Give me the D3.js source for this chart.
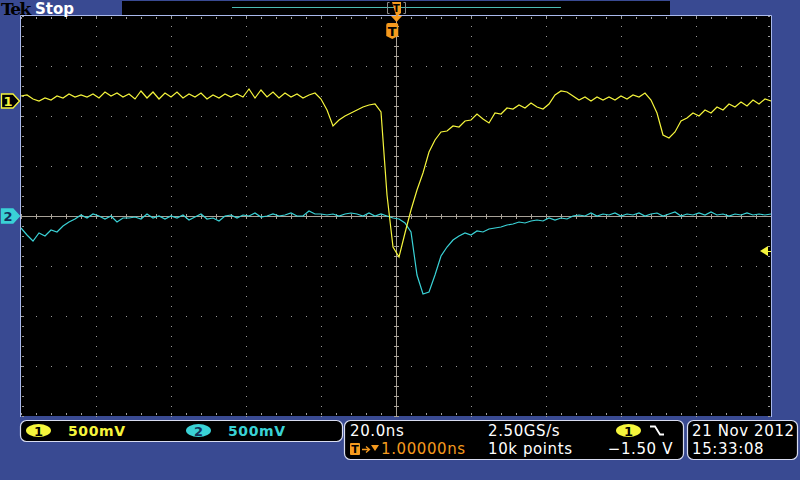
<!DOCTYPE html>
<html><head><meta charset="utf-8">
<script src="https://cdn.jsdelivr.net/npm/d3@7"></script>
<style>html,body{margin:0;padding:0;background:#394a92;}svg{display:block;}</style>
</head><body>
<svg id="c" width="800" height="480"></svg>
<script>
// ---- data ----
const timeStartNs = -100;      // left edge of record
const sampleStepNs = 1.6;      // sample spacing used for the readout
const ch1Volts = [0.05,0.06,0.02,0.00,0.03,0.01,0.05,0.03,0.07,0.04,0.06,
  0.04,0.07,0.03,0.09,0.05,0.08,0.04,0.07,0.02,0.10,
  0.03,0.09,0.02,0.08,0.04,0.09,0.03,0.07,0.04,0.08,
  0.02,0.06,0.03,0.07,0.04,0.07,0.04,0.12,0.03,0.11,
  0.04,0.09,0.03,0.08,0.04,0.07,0.03,0.06,0.08,0.02,
  -0.09,-0.25,-0.19,-0.15,-0.12,-0.09,-0.06,-0.04,-0.03,-0.11,-0.94,-1.46,-1.56,-1.32,-1.09,-0.89,-0.72,-0.51,
  -0.39,-0.31,-0.30,-0.25,-0.26,-0.20,-0.19,-0.13,-0.18,-0.22,-0.12,-0.13,-0.07,-0.08,-0.04,-0.07,-0.02,-0.06,-0.08,-0.03,
  0.06,0.10,0.09,0.05,0.01,0.04,0.00,0.04,0.01,0.04,0.01,0.05,0.02,0.06,0.04,0.08,0.01,
  -0.12,-0.34,-0.37,
  -0.31,-0.20,-0.17,-0.12,-0.15,-0.09,-0.12,-0.06,-0.09,-0.03,-0.06,-0.01,-0.05,0.01,-0.03,0.02,0.00];
const ch2Volts = [-0.12,-0.19,-0.25,-0.17,-0.20,-0.14,-0.16,-0.10,-0.06,-0.03,0.01,-0.02,0.02,0.00,-0.03,0.00,-0.06,-0.02,-0.02,-0.01,-0.03,0.02,-0.02,0.00,-0.03,0.00,-0.02,0.01,-0.04,-0.01,0.02,-0.03,-0.02,-0.05,0.00,0.01,-0.02,0.01,0.00,0.03,-0.01,0.00,0.02,0.00,0.01,0.03,0.00,0.00,0.05,0.02,0.02,0.01,0.02,0.00,0.02,0.03,0.02,0.00,0.03,0.00,0.02,0.00,-0.02,-0.03,-0.07,-0.16,-0.59,-0.78,-0.76,-0.59,-0.40,-0.31,-0.24,-0.20,-0.17,-0.19,-0.15,-0.16,-0.13,-0.12,-0.11,-0.09,-0.08,-0.06,-0.07,-0.05,-0.04,-0.05,-0.02,-0.04,-0.02,-0.03,0.00,0.01,0.00,0.03,0.00,0.02,0.01,0.03,0.00,0.02,0.01,0.03,0.00,0.02,0.03,0.00,0.02,0.04,0.00,0.02,0.01,0.03,0.01,0.04,0.01,0.02,0.00,0.02,0.01,0.03,0.01,0.02,0.01,0.02];
const channels = ["1","2"];
const voltsPerDiv = [0.5, 0.5];
const offsetDiv = [2.3, 0];          // ground marker positions in divisions
const scaleLabels = ["500mV","500mV"];
const timebaseLabel = "20.0ns";
const sampleRateLabel = "2.50GS/s";
const triggerPosLabel = "1.00000ns";
const pointsLabel = "10k points";
const triggerLevelLabel = "\u22121.50 V";
const triggerLevelV = -1.50;
const triggerTimeNs = -1.0;
const dateLabel = "21 Nov 2012";
const timeLabel = "15:33:08";

// ---- styles ----
const BLUE = "#394a92", BORDER = "#a9b9ec", YEL = "#f5f53c", CYA = "#3ad2d6", ORA = "#f59a1e", GRID = "#9a9a9a", CROSS = "#a8a298";
const FONT = "'DejaVu Sans', Verdana, sans-serif";

const svg = d3.select("#c");
svg.append("rect").attr("width",800).attr("height",480).attr("fill",BLUE);

const x = d3.scaleLinear().domain([-100,100]).range([21,771]);
const y = d3.scaleLinear().domain([-4,4]).range([416,16]);

// plot area
svg.append("rect").attr("x",x(-100)).attr("y",y(4)).attr("width",x(100)-x(-100)).attr("height",y(-4)-y(4)).attr("fill","#000");

const g = svg.append("g");
const majX = d3.range(-100,100.01,20), majY = d3.range(-4,4.01,1);
const minX = d3.range(-100,100.01,4), minY = d3.range(-4,4.01,0.2);
// dotted grid lines
const dots = [];
majX.forEach(t => { if (t!==0 && Math.abs(t)!==100) minY.forEach(v => dots.push([x(t), y(v)])); });
majY.forEach(v => { if (v!==0 && Math.abs(v)!==4) minX.forEach(t => dots.push([x(t), y(v)])); });
g.selectAll("rect.d").data(dots).join("rect").attr("class","d")
  .attr("x",d=>Math.round(d[0])).attr("y",d=>Math.round(d[1])).attr("width",1).attr("height",1).attr("fill",GRID);
// border ticks
const bt = [];
minX.forEach(t => { bt.push([x(t), y(4)+1, 1, 2]); bt.push([x(t), y(-4)-3, 1, 2]); });
minY.forEach(v => { bt.push([x(-100)+1, y(v), 2, 1]); bt.push([x(100)-3, y(v), 2, 1]); });
g.selectAll("rect.b").data(bt).join("rect").attr("class","b")
  .attr("x",d=>Math.round(d[0])).attr("y",d=>Math.round(d[1])).attr("width",d=>d[2]).attr("height",d=>d[3]).attr("fill",GRID);
// center crosshair
g.append("line").attr("x1",x(-100)).attr("x2",x(100)).attr("y1",Math.round(y(0))+0.5).attr("y2",Math.round(y(0))+0.5).attr("stroke",CROSS);
g.append("line").attr("y1",y(4)).attr("y2",y(-4)).attr("x1",Math.round(x(0))+0.5).attr("x2",Math.round(x(0))+0.5).attr("stroke",CROSS);
g.selectAll("rect.cx").data(minX).join("rect").attr("class","cx")
  .attr("x",d=>Math.round(x(d))).attr("y",Math.round(y(0))-2).attr("width",1).attr("height",5).attr("fill",CROSS);
g.selectAll("rect.cy").data(minY).join("rect").attr("class","cy")
  .attr("x",Math.round(x(0))-2).attr("y",d=>Math.round(y(d))).attr("width",5).attr("height",1).attr("fill",CROSS);

// border
svg.append("path").attr("d",`M${x(-100)-0.5},${y(-4)+1}V${y(4)-0.5}H${x(100)+0.5}V${y(-4)+1}`)
  .attr("fill","none").attr("stroke",BORDER).attr("stroke-width",1);

// traces
const line = (ci) => d3.line()
  .x((d,i) => x(timeStartNs + i*sampleStepNs))
  .y(d => y(d/voltsPerDiv[ci] + offsetDiv[ci]));
svg.append("path").datum(ch2Volts).attr("d",line(1)).attr("fill","none").attr("stroke",CYA).attr("stroke-width",1.2);
svg.append("path").datum(ch1Volts).attr("d",line(0)).attr("fill","none").attr("stroke",YEL).attr("stroke-width",1.2);

// channel ground markers
function chMarker(ci, fill, stroke, txt){
  const yy = y(offsetDiv[ci]);
  const gm = svg.append("g");
  gm.append("path").attr("d",`M1.5,${yy-7}H13L19.5,${yy}L13,${yy+7}H1.5Z`).attr("fill",fill).attr("stroke",stroke).attr("stroke-width",1.3);
  gm.append("text").attr("x",8).attr("y",yy+5).attr("text-anchor","middle").attr("font-family",FONT).attr("font-weight","bold")
    .attr("font-size",13).attr("fill",txt).text(channels[ci]);
}
chMarker(0,"#000",YEL,YEL);
chMarker(1,CYA,CYA,"#12305a");

// trigger level arrow (right)
const ty = y(triggerLevelV/voltsPerDiv[0] + offsetDiv[0]);
svg.append("path").attr("d",`M760,${ty}L768,${ty-5}V${ty+5}Z`).attr("fill",YEL);
svg.append("line").attr("x1",766).attr("x2",771).attr("y1",ty+0.5).attr("y2",ty+0.5).attr("stroke",YEL);

// top bar
svg.append("text").attr("x",1).attr("y",15).attr("font-family","'DejaVu Serif', serif").attr("font-weight","bold")
  .attr("font-size",17).attr("letter-spacing",-1.5).attr("fill","#000").text("Tek");
svg.append("text").attr("x",35).attr("y",14).attr("font-family",FONT).attr("font-weight","bold")
  .attr("font-size",15).attr("fill","#fff").text("Stop");
svg.append("rect").attr("x",122).attr("y",1).attr("width",548).attr("height",14).attr("fill","#000");
svg.append("line").attr("x1",232).attr("x2",561).attr("y1",7.5).attr("y2",7.5).attr("stroke","#4cbcb4");
svg.append("path").attr("d","M389.5,2.5H387.5V13.5H389.5M403.5,2.5H405.5V13.5H403.5").attr("fill","none").attr("stroke","#8a8a8a");
svg.append("path").attr("d","M392,2H401V13L396.5,17Z").attr("fill",ORA);
svg.append("text").attr("x",396.5).attr("y",12).attr("text-anchor","middle").attr("font-family",FONT).attr("font-weight","bold").attr("font-size",10).attr("fill","#000").text("T");
svg.append("path").attr("d","M391,16H402L396.5,22Z").attr("fill",ORA);

// trigger position marker in plot
const tx = x(triggerTimeNs);
svg.append("path").attr("d",`M${tx-6},${y(4)+9}Q${tx-6},${y(4)+7} ${tx-4},${y(4)+7}H${tx+4}Q${tx+6},${y(4)+7} ${tx+6},${y(4)+9}V${y(4)+20}L${tx},${y(4)+23}L${tx-6},${y(4)+20}Z`).attr("fill",ORA);
svg.append("text").attr("x",tx).attr("y",y(4)+20).attr("text-anchor","middle").attr("font-family",FONT).attr("font-weight","bold").attr("font-size",13).attr("fill","#000").text("T");

// bottom status boxes
function box(x0,y0,w,h){ svg.append("rect").attr("x",x0+0.5).attr("y",y0+0.5).attr("width",w).attr("height",h).attr("rx",6).attr("fill","#000").attr("stroke","#d8dcf0").attr("stroke-width",1.2); }
box(20,420,322,21);
box(344,420,339,39);
box(687,420,110,39);
function txt(xx,yy,s,c,anchor){ return svg.append("text").attr("x",xx).attr("y",yy).attr("font-family",FONT).attr("font-size",15).attr("letter-spacing",0.6).attr("fill",c).attr("text-anchor",anchor||"start").text(s); }
function chBadge(cx,cy,ci,fill){
  svg.append("ellipse").attr("cx",cx).attr("cy",cy).attr("rx",12.5).attr("ry",6.5).attr("fill",fill);
  svg.append("text").attr("x",cx).attr("y",cy+5).attr("text-anchor","middle").attr("font-family",FONT).attr("font-weight","bold").attr("font-size",13).attr("fill",ci===0?"#000":"#12305a").text(channels[ci]);
}
chBadge(38.5,430.5,0,YEL); txt(68,436,scaleLabels[0],YEL).attr("font-weight","bold").attr("font-size",14);
chBadge(198.5,430.5,1,CYA); txt(228,436,scaleLabels[1],CYA).attr("font-weight","bold").attr("font-size",14);

txt(350,436,timebaseLabel,"#fff");
txt(488,436,sampleRateLabel,"#fff");
chBadge(628.5,430.5,0,YEL);
svg.append("path").attr("d","M650,426.5H655L660,434.5H664").attr("fill","none").attr("stroke","#fff").attr("stroke-width",1.8);
svg.append("rect").attr("x",350).attr("y",443).attr("width",10).attr("height",12).attr("rx",1).attr("fill",ORA);
svg.append("text").attr("x",355).attr("y",453).attr("text-anchor","middle").attr("font-family",FONT).attr("font-weight","bold").attr("font-size",11).attr("fill","#000").text("T");
svg.append("path").attr("d","M362,449.5H369M366,446.5L369.5,449.5L366,452.5").attr("fill","none").attr("stroke",ORA).attr("stroke-width",1.3);
svg.append("path").attr("d","M371,445H379L375,451Z").attr("fill",ORA);
txt(381,454,triggerPosLabel,ORA);
txt(488,454,pointsLabel,"#fff");
txt(673,454,triggerLevelLabel,"#fff","end");
txt(692,436,dateLabel,"#fff");
txt(692,454,timeLabel,"#fff");
</script>
</body></html>
